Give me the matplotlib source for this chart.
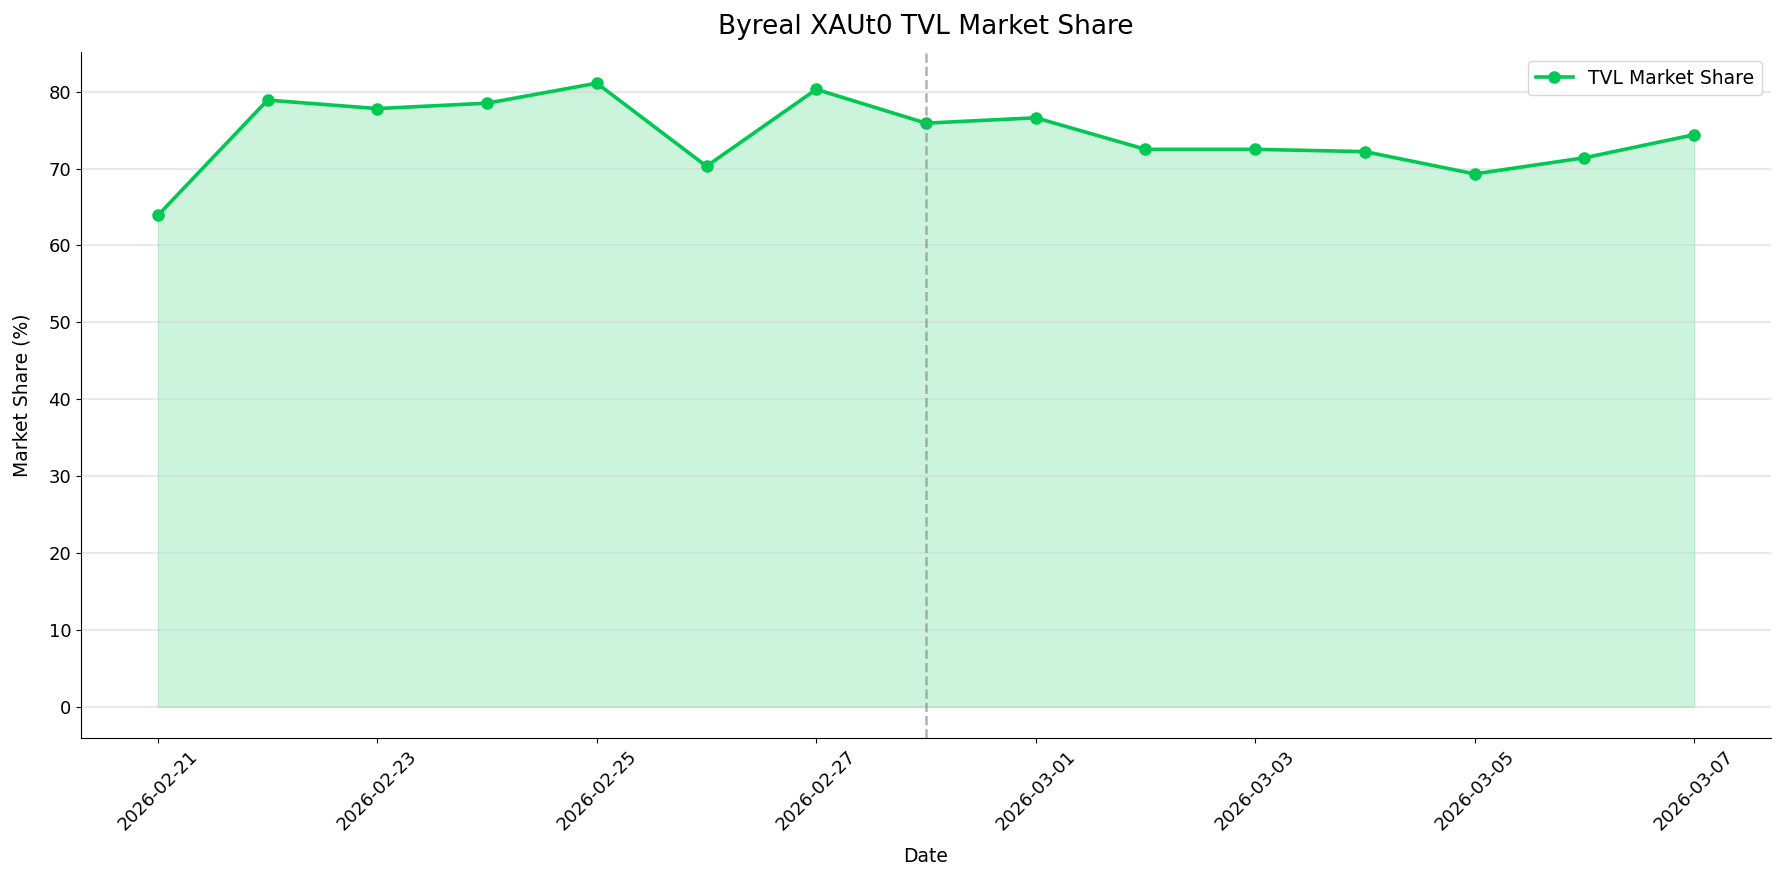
import numpy as np
import pandas as pd
import matplotlib
matplotlib.use("Agg")
import matplotlib.pyplot as plt
import matplotlib.dates as mdates
from matplotlib.ticker import FixedLocator

plt.rcParams['font.family'] = ['DejaVu Sans']

dates = pd.date_range("2026-02-21", "2026-03-07", freq="D")
share = [63.9, 78.9, 77.8, 78.5, 81.1, 70.3, 80.3, 75.9, 76.6,
         72.5, 72.5, 72.2, 69.3, 71.4, 74.4]
event_date = pd.Timestamp("2026-02-28")

green = "#00C853"

fig = plt.figure(figsize=(17.85, 8.85), dpi=100)
ax = fig.add_axes([81 / 1785, 1 - 738 / 885, (1771 - 81) / 1785, (738 - 52) / 885])

ax.plot(dates, share, color=green, lw=2.6, marker="o", ms=8, label="TVL Market Share")
ax.fill_between(dates, share, 0, color=green, alpha=0.2)
ax.axvline(event_date, color="gray", ls="--", lw=1.8, alpha=0.6)

ax.set_title("Byreal XAUt0 TVL Market Share", fontsize=19, pad=13)
ax.set_xlabel("Date", fontsize=13.5, labelpad=9)
ax.set_ylabel("Market Share (%)", fontsize=13.5, labelpad=12)
ax.tick_params(labelsize=13)
ax.xaxis.set_major_locator(FixedLocator(mdates.date2num(dates[::2])))
ax.xaxis.set_major_formatter(mdates.DateFormatter("%Y-%m-%d"))
plt.setp(ax.get_xticklabels(), rotation=45)
ax.grid(axis="y", color="#cccccc", alpha=0.5, lw=1.2)
ax.spines["top"].set_visible(False)
ax.spines["right"].set_visible(False)
ax.legend(loc="upper right", fontsize=13.5)

fig.savefig("out.png", dpi=100)
